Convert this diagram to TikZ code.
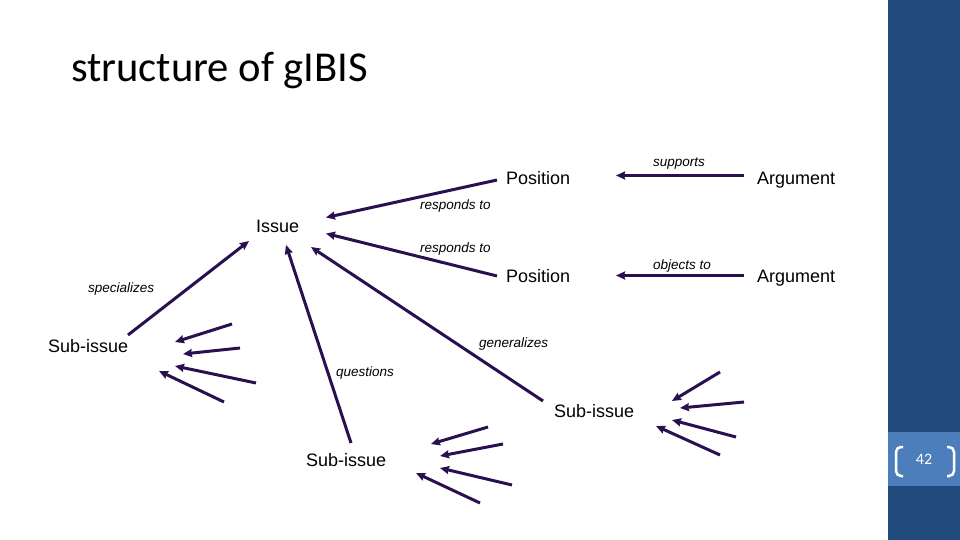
\documentclass[tikz,border=0pt]{standalone}
\usepackage{fontspec}
\setmainfont{Liberation Sans}
\newfontfamily\calib{Carlito}
\usetikzlibrary{arrows.meta}
\definecolor{linec}{HTML}{2A1050}
\definecolor{paneldark}{HTML}{214A7D}
\definecolor{panellight}{HTML}{4C7EBB}
\tikzset{
  lbl/.style={anchor=base west,inner sep=0pt,font=\fontsize{18}{20}\selectfont},
  rel/.style={anchor=base west,inner sep=0pt,font=\fontsize{13.5}{15}\selectfont\itshape},
  arr/.style={draw=linec,line width=3pt,-{Stealth[length=9pt,width=8pt,inset=1pt]}},
  ln/.style={draw=linec,line width=3pt},
  brk/.style={draw=white,line width=2.5pt,rounded corners=5pt}
}
\begin{document}
\begin{tikzpicture}[x=1pt,y=-1pt]
\useasboundingbox (0,0) rectangle (960,540);
\fill[white] (0,0) rectangle (960,540);
% side panel
\fill[paneldark] (888,0) rectangle (960,540);
\fill[panellight] (888,432) rectangle (960,486);
\node[inner sep=0pt,text=white,font=\calib\fontsize{16}{17}\selectfont] (pnum) at (924,459) {42};
\draw[brk] (903,447) -- (896,447) -- (896,476) -- (903,476);
\draw[brk] (947,447) -- (954,447) -- (954,476) -- (947,476);
% title
\node[anchor=base west,inner sep=0pt,font=\calib\fontsize{42.6}{46}\selectfont] (title) at (71,82) {structure of gIBIS};
% main nodes
\node[lbl] (pos1) at (506,184) {Position};
\node[lbl] (pos2) at (506,282) {Position};
\node[lbl] (arg1) at (757,184) {Argument};
\node[lbl] (arg2) at (757,282) {Argument};
\node[lbl] (issue) at (256,232) {Issue};
\node[lbl] (subL) at (48,352) {Sub-issue};
\node[lbl] (subB) at (306,466) {Sub-issue};
\node[lbl] (subR) at (554,417) {Sub-issue};
% relation labels
\node[rel] (lsup) at (653,167) {supports};
\node[rel] (lobj) at (653,269) {objects to};
\node[rel] (lr1) at (420,209) {responds to};
\node[rel] (lr2) at (420,252) {responds to};
\node[rel] (lspec) at (88,292) {specializes};
\node[rel] (lq) at (336,376) {questions};
\node[rel] (lgen) at (479,347) {generalizes};
% connector end points
\coordinate (a1s) at (744,175.5);
\coordinate (a1e) at (616,175.5);
\coordinate (a2s) at (744,275.5);
\coordinate (a2e) at (616,275.5);
\coordinate (p1s) at (497,180);
\coordinate (p1e) at (326,217.5);
\coordinate (p2s) at (497,276);
\coordinate (p2e) at (326,233.5);
\coordinate (gs) at (543,401);
\coordinate (ge) at (311,247);
\coordinate (qs) at (351,443);
\coordinate (qe) at (286,245);
\coordinate (ss) at (128,335);
\coordinate (se) at (249,241);
\draw[arr] (a1s) -- (a1e);
\draw[arr] (a2s) -- (a2e);
\draw[arr] (p1s) -- (p1e);
\draw[arr] (p2s) -- (p2e);
\draw[arr] (gs) -- (ge);
\draw[arr] (qs) -- (qe);
\draw[arr] (ss) -- (se);
% fan near left sub-issue
\coordinate (fL1s) at (232,324); \coordinate (fL1e) at (175,342);
\coordinate (fL2s) at (240,348); \coordinate (fL2e) at (183,354);
\coordinate (fL3s) at (256,383); \coordinate (fL3e) at (175,366);
\coordinate (fL4s) at (224,402); \coordinate (fL4e) at (159,371);
\draw[arr] (fL1s) -- (fL1e);
\draw[arr] (fL2s) -- (fL2e);
\draw[arr] (fL3s) -- (fL3e);
\draw[arr] (fL4s) -- (fL4e);
% fan near bottom sub-issue
\coordinate (fB1s) at (488,427); \coordinate (fB1e) at (431,444);
\coordinate (fB2s) at (503,444); \coordinate (fB2e) at (440,456);
\coordinate (fB3s) at (512,485); \coordinate (fB3e) at (440,468);
\coordinate (fB4s) at (480,503); \coordinate (fB4e) at (416,473);
\draw[arr] (fB1s) -- (fB1e);
\draw[arr] (fB2s) -- (fB2e);
\draw[arr] (fB3s) -- (fB3e);
\draw[arr] (fB4s) -- (fB4e);
% fan near right sub-issue
\coordinate (fR1s) at (720,372); \coordinate (fR1e) at (672,401);
\coordinate (fR2s) at (744,402); \coordinate (fR2e) at (680,408);
\coordinate (fR3s) at (736,437); \coordinate (fR3e) at (672,420);
\coordinate (fR4s) at (720,455); \coordinate (fR4e) at (656,426);
\draw[arr] (fR1s) -- (fR1e);
\draw[arr] (fR2s) -- (fR2e);
\draw[arr] (fR3s) -- (fR3e);
\draw[arr] (fR4s) -- (fR4e);
\end{tikzpicture}
\end{document}
